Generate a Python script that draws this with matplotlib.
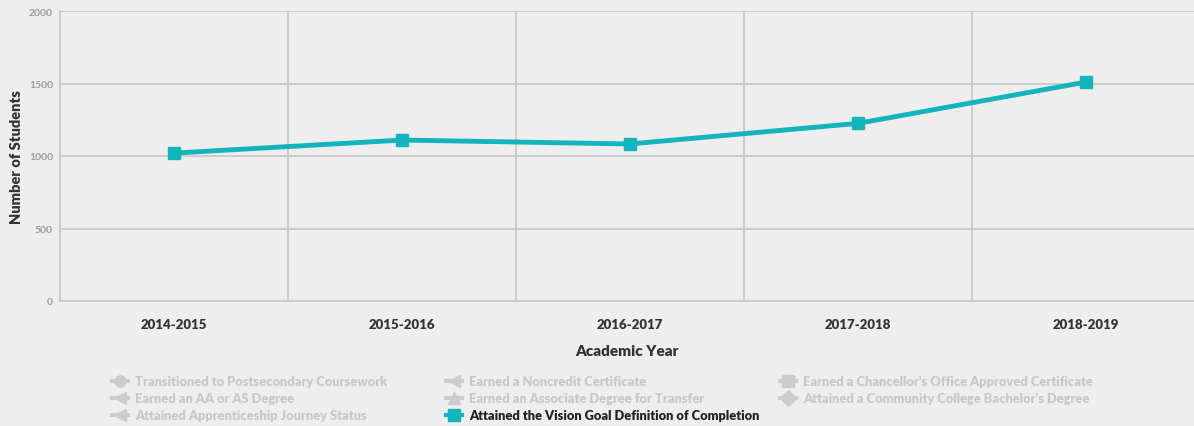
import matplotlib
matplotlib.use("Agg")
import matplotlib.pyplot as plt
from matplotlib.lines import Line2D

years = ["2014-2015", "2015-2016", "2016-2017", "2017-2018", "2018-2019"]
completions = [1020, 1110, 1083, 1225, 1510]
yticks = [0, 500, 1000, 1500, 2000]

legend_labels = [
    "Transitioned to Postsecondary Coursework",
    "Earned a Noncredit Certificate",
    "Earned a Chancellor's Office Approved Certificate",
    "Earned an AA or AS Degree",
    "Earned an Associate Degree for Transfer",
    "Attained a Community College Bachelor's Degree",
    "Attained Apprenticeship Journey Status",
    "Attained the Vision Goal Definition of Completion",
]
legend_markers = ["o", "<", "s", "<", "^", "D", "<", "s"]
legend_active = [False, False, False, False, False, False, False, True]

plt.rcParams['font.family'] = ['Lato', 'DejaVu Sans']
BG = "#eeeeee"
TEAL = "#14b4bc"
GRID = "#c6c6c6"

W, H = 1194, 427
fig = plt.figure(figsize=(W / 100, H / 100), dpi=100, facecolor=BG)
ax = fig.add_axes([60 / W, 1 - 302 / H, 1134 / W, 290 / H], facecolor=BG)

x = list(range(len(years)))
ax.plot(x, completions, color=TEAL, lw=3.5, marker="s", markersize=9, zorder=3)

ax.set_xlim(-0.5, 4.5 - 6 / 228)
ax.set_ylim(0, 2000)
ax.set_yticks(yticks)
ax.set_yticklabels([str(v) for v in yticks], color="#9a9a9a", fontsize=7.5, fontweight="bold")
ax.set_xticks(x)
ax.set_xticklabels(years, color="#333333", fontsize=9.5, fontweight="heavy")
ax.set_xticks([i + 0.5 for i in range(len(years) - 1)], minor=True)
ax.tick_params(axis="both", which="both", length=0)
ax.tick_params(axis="x", pad=12)
ax.tick_params(axis="y", pad=5)
ax.grid(axis="y", which="major", color=GRID, lw=1.2)
ax.grid(axis="x", which="minor", color=GRID, lw=1.2)
ax.grid(axis="x", which="major", visible=False)
for s in ["top", "right"]:
    ax.spines[s].set_visible(False)
for s in ["left", "bottom"]:
    ax.spines[s].set_color(GRID)
    ax.spines[s].set_linewidth(1.2)

ax.set_xlabel("Academic Year", fontsize=11, fontweight="heavy", color="#333333", labelpad=10)
ax.set_ylabel("Number of Students", fontsize=10.5, fontweight="heavy", color="#333333")
ax.yaxis.set_label_coords((23 - 60) / 1134, 0.5)

col_x = [112, 446, 780]
row_y = [382, 399, 416]
for i, (lab, mk, act) in enumerate(zip(legend_labels, legend_markers, legend_active)):
    r, c = divmod(i, 3)
    xm = col_x[c]
    ym = 1 - row_y[r] / H
    col = TEAL if act else "#cccccc"
    tcol = "#222222" if act else "#c8c8c8"
    fig.add_artist(Line2D([xm / W, (xm + 16) / W], [ym, ym], color=col, lw=3,
                          transform=fig.transFigure))
    fig.add_artist(Line2D([(xm + 8) / W], [ym], color=col, marker=mk, markersize=8,
                          transform=fig.transFigure, lw=0))
    fig.text((xm + 23) / W, ym, lab, color=tcol, fontsize=9.3, fontweight="heavy",
             va="center", ha="left")

fig.savefig("out.png", dpi=100, facecolor=BG)
